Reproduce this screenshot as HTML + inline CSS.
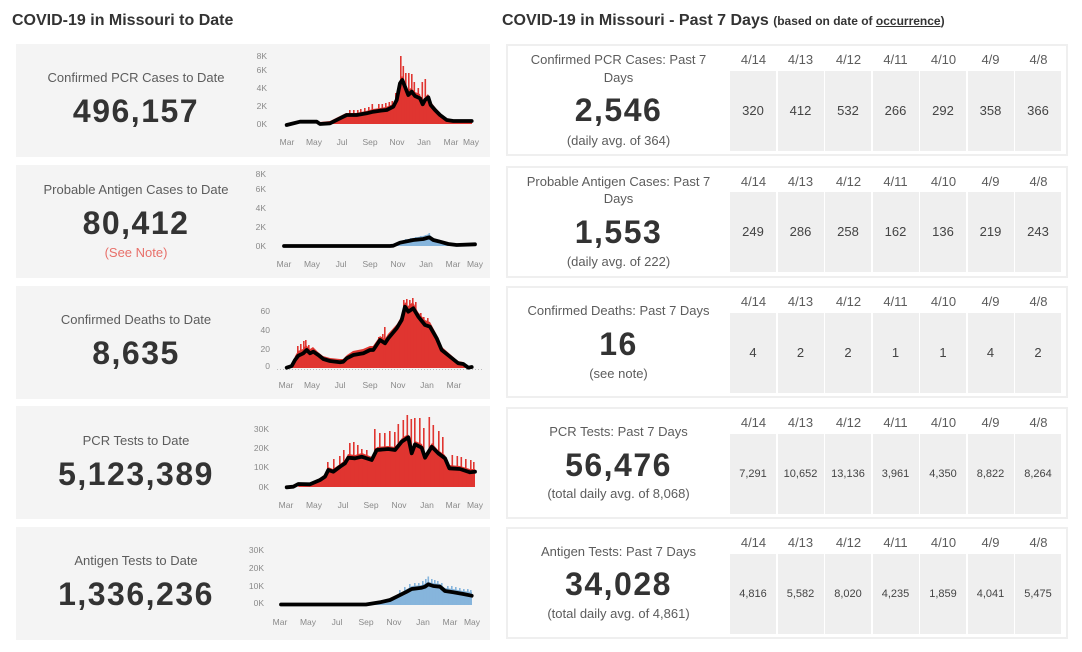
<!DOCTYPE html>
<html><head><meta charset="utf-8"><style>
*{margin:0;padding:0;box-sizing:border-box}
body{width:1082px;height:652px;background:#fff;font-family:"Liberation Sans",sans-serif;position:relative;overflow:hidden;color:#333}
.lb{position:absolute;left:16px;width:474px;height:113px;background:#f4f4f4}
.rb{position:absolute;left:506px;width:562px;height:112px;background:#fff;border:2px solid #efefef}
.t{position:absolute;white-space:nowrap;text-align:center}
.lab{font-size:13px;line-height:20px;height:20px;color:#5c5c5c}
.num{font-size:32px;font-weight:bold;line-height:36px;height:36px;color:#333;letter-spacing:1.5px}
.lt{left:16px;width:240px}
.rt{left:508px;width:221px}
.cell{position:absolute;width:46px;height:80px;background:#efefef;font-size:13px;color:#444;text-align:center;line-height:80px}
.cs{font-size:11px}
.dh{position:absolute;width:47px;text-align:center;font-size:13px;color:#5c5c5c;line-height:20px}
svg{position:absolute;left:0;top:0}
</style></head><body>
<div class="t" style="left:12px;top:11px;font-size:16px;font-weight:bold;line-height:20px;color:#333">COVID-19 in Missouri to Date</div>
<div class="t" style="left:502px;top:11px;font-size:16px;font-weight:bold;line-height:20px;color:#333">COVID-19 in Missouri - Past 7 Days <span style="font-size:12px">(based on date of <u>occurrence</u>)</span></div>

<div class="lb" style="top:44px"></div>
<div class="lb" style="top:165px"></div>
<div class="lb" style="top:286px"></div>
<div class="lb" style="top:406px"></div>
<div class="lb" style="top:527px"></div>

<div class="t lab lt" style="top:68px">Confirmed PCR Cases to Date</div>
<div class="t num lt" style="top:93px">496,157</div>
<div class="t lab lt" style="top:180px">Probable Antigen Cases to Date</div>
<div class="t num lt" style="top:205px">80,412</div>
<div class="t lab lt" style="top:243px;color:#e8706a">(See Note)</div>
<div class="t lab lt" style="top:310px">Confirmed Deaths to Date</div>
<div class="t num lt" style="top:335px">8,635</div>
<div class="t lab lt" style="top:431px">PCR Tests to Date</div>
<div class="t num lt" style="top:456px">5,123,389</div>
<div class="t lab lt" style="top:551px">Antigen Tests to Date</div>
<div class="t num lt" style="top:576px">1,336,236</div>

<div class="rb" style="top:44px"></div>
<div class="rb" style="top:166px"></div>
<div class="rb" style="top:286px"></div>
<div class="rb" style="top:407px"></div>
<div class="rb" style="top:527px"></div>

<div class="t lab rt" style="top:50px">Confirmed PCR Cases: Past 7</div>
<div class="t lab rt" style="top:68px">Days</div>
<div class="t num rt" style="top:92px">2,546</div>
<div class="t lab rt" style="top:131px">(daily avg. of 364)</div>

<div class="t lab rt" style="top:172px">Probable Antigen Cases: Past 7</div>
<div class="t lab rt" style="top:189px">Days</div>
<div class="t num rt" style="top:214px">1,553</div>
<div class="t lab rt" style="top:252px">(daily avg. of 222)</div>

<div class="t lab rt" style="top:301px">Confirmed Deaths: Past 7 Days</div>
<div class="t num rt" style="top:326px">16</div>
<div class="t lab rt" style="top:364px">(see note)</div>

<div class="t lab rt" style="top:422px">PCR Tests: Past 7 Days</div>
<div class="t num rt" style="top:447px">56,476</div>
<div class="t lab rt" style="top:484px">(total daily avg. of 8,068)</div>

<div class="t lab rt" style="top:542px">Antigen Tests: Past 7 Days</div>
<div class="t num rt" style="top:566px">34,028</div>
<div class="t lab rt" style="top:604px">(total daily avg. of 4,861)</div>

<!-- table 1 -->
<div class="dh" style="left:730px;top:50px">4/14</div><div class="dh" style="left:777px;top:50px">4/13</div><div class="dh" style="left:825px;top:50px">4/12</div><div class="dh" style="left:872px;top:50px">4/11</div><div class="dh" style="left:920px;top:50px">4/10</div><div class="dh" style="left:967px;top:50px">4/9</div><div class="dh" style="left:1015px;top:50px">4/8</div>
<div class="cell" style="left:730px;top:71px">320</div><div class="cell" style="left:777.5px;top:71px">412</div><div class="cell" style="left:825px;top:71px">532</div><div class="cell" style="left:872.5px;top:71px">266</div><div class="cell" style="left:920px;top:71px">292</div><div class="cell" style="left:967.5px;top:71px">358</div><div class="cell" style="left:1015px;top:71px">366</div>
<!-- table 2 -->
<div class="dh" style="left:730px;top:172px">4/14</div><div class="dh" style="left:777px;top:172px">4/13</div><div class="dh" style="left:825px;top:172px">4/12</div><div class="dh" style="left:872px;top:172px">4/11</div><div class="dh" style="left:920px;top:172px">4/10</div><div class="dh" style="left:967px;top:172px">4/9</div><div class="dh" style="left:1015px;top:172px">4/8</div>
<div class="cell" style="left:730px;top:192px">249</div><div class="cell" style="left:777.5px;top:192px">286</div><div class="cell" style="left:825px;top:192px">258</div><div class="cell" style="left:872.5px;top:192px">162</div><div class="cell" style="left:920px;top:192px">136</div><div class="cell" style="left:967.5px;top:192px">219</div><div class="cell" style="left:1015px;top:192px">243</div>
<!-- table 3 -->
<div class="dh" style="left:730px;top:292px">4/14</div><div class="dh" style="left:777px;top:292px">4/13</div><div class="dh" style="left:825px;top:292px">4/12</div><div class="dh" style="left:872px;top:292px">4/11</div><div class="dh" style="left:920px;top:292px">4/10</div><div class="dh" style="left:967px;top:292px">4/9</div><div class="dh" style="left:1015px;top:292px">4/8</div>
<div class="cell" style="left:730px;top:313px">4</div><div class="cell" style="left:777.5px;top:313px">2</div><div class="cell" style="left:825px;top:313px">2</div><div class="cell" style="left:872.5px;top:313px">1</div><div class="cell" style="left:920px;top:313px">1</div><div class="cell" style="left:967.5px;top:313px">4</div><div class="cell" style="left:1015px;top:313px">2</div>
<!-- table 4 -->
<div class="dh" style="left:730px;top:413px">4/14</div><div class="dh" style="left:777px;top:413px">4/13</div><div class="dh" style="left:825px;top:413px">4/12</div><div class="dh" style="left:872px;top:413px">4/11</div><div class="dh" style="left:920px;top:413px">4/10</div><div class="dh" style="left:967px;top:413px">4/9</div><div class="dh" style="left:1015px;top:413px">4/8</div>
<div class="cell cs" style="left:730px;top:434px">7,291</div><div class="cell cs" style="left:777.5px;top:434px">10,652</div><div class="cell cs" style="left:825px;top:434px">13,136</div><div class="cell cs" style="left:872.5px;top:434px">3,961</div><div class="cell cs" style="left:920px;top:434px">4,350</div><div class="cell cs" style="left:967.5px;top:434px">8,822</div><div class="cell cs" style="left:1015px;top:434px">8,264</div>
<!-- table 5 -->
<div class="dh" style="left:730px;top:533px">4/14</div><div class="dh" style="left:777px;top:533px">4/13</div><div class="dh" style="left:825px;top:533px">4/12</div><div class="dh" style="left:872px;top:533px">4/11</div><div class="dh" style="left:920px;top:533px">4/10</div><div class="dh" style="left:967px;top:533px">4/9</div><div class="dh" style="left:1015px;top:533px">4/8</div>
<div class="cell cs" style="left:730px;top:554px">4,816</div><div class="cell cs" style="left:777.5px;top:554px">5,582</div><div class="cell cs" style="left:825px;top:554px">8,020</div><div class="cell cs" style="left:872.5px;top:554px">4,235</div><div class="cell cs" style="left:920px;top:554px">1,859</div><div class="cell cs" style="left:967.5px;top:554px">4,041</div><div class="cell cs" style="left:1015px;top:554px">5,475</div>

<svg width="1082" height="652" viewBox="0 0 1082 652" font-family="Liberation Sans, sans-serif">
<g font-size="8.5" fill="#8a8a8a">
<g text-anchor="end"><text x="267" y="59">8K</text><text x="267" y="73">6K</text><text x="267" y="91">4K</text><text x="267" y="109">2K</text><text x="267" y="127">0K</text></g>
<g text-anchor="middle"><text x="287" y="145">Mar</text><text x="314" y="145">May</text><text x="342" y="145">Jul</text><text x="370" y="145">Sep</text><text x="397" y="145">Nov</text><text x="424" y="145">Jan</text><text x="451" y="145">Mar</text><text x="471" y="145">May</text></g>
<g text-anchor="end"><text x="266" y="177">8K</text><text x="266" y="192">6K</text><text x="266" y="211">4K</text><text x="266" y="230">2K</text><text x="266" y="249">0K</text></g>
<g text-anchor="middle"><text x="284" y="267">Mar</text><text x="312" y="267">May</text><text x="341" y="267">Jul</text><text x="370" y="267">Sep</text><text x="398" y="267">Nov</text><text x="426" y="267">Jan</text><text x="453" y="267">Mar</text><text x="475" y="267">May</text></g>
<g text-anchor="end"><text x="270" y="314">60</text><text x="270" y="333">40</text><text x="270" y="352">20</text><text x="270" y="369">0</text></g>
<g text-anchor="middle"><text x="286" y="388">Mar</text><text x="312" y="388">May</text><text x="340" y="388">Jul</text><text x="370" y="388">Sep</text><text x="398" y="388">Nov</text><text x="427" y="388">Jan</text><text x="454" y="388">Mar</text></g>
<g text-anchor="end"><text x="269" y="432">30K</text><text x="269" y="451">20K</text><text x="269" y="470">10K</text><text x="269" y="490">0K</text></g>
<g text-anchor="middle"><text x="286" y="508">Mar</text><text x="314" y="508">May</text><text x="343" y="508">Jul</text><text x="371" y="508">Sep</text><text x="399" y="508">Nov</text><text x="427" y="508">Jan</text><text x="453" y="508">Mar</text><text x="475" y="508">May</text></g>
<g text-anchor="end"><text x="264" y="553">30K</text><text x="264" y="571">20K</text><text x="264" y="589">10K</text><text x="264" y="606">0K</text></g>
<g text-anchor="middle"><text x="280" y="625">Mar</text><text x="308" y="625">May</text><text x="337" y="625">Jul</text><text x="366" y="625">Sep</text><text x="394" y="625">Nov</text><text x="423" y="625">Jan</text><text x="450" y="625">Mar</text><text x="472" y="625">May</text></g>
</g>

<polygon fill="#e03530" points="320,124 320,122 330,121 340,116 346,113 356,113 366,111 373,109 380,108 386,107 393,104 396,97 399,82 402,76 405,82 408,90 411,88 415,92 420,94 422,102 425,97 428,94 431,102 435,107 440,113 446,119 453,120 472,120 472,124"/>
<g fill="#e03530">
<rect x="400" y="56" width="1.6" height="68"/><rect x="402.5" y="66" width="1.6" height="58"/><rect x="405" y="73" width="1.6" height="51"/><rect x="408" y="73" width="1.6" height="51"/><rect x="411" y="74" width="1.6" height="50"/><rect x="413.5" y="82" width="1.6" height="42"/><rect x="417.5" y="88" width="1.6" height="36"/><rect x="421.5" y="82" width="1.6" height="42"/><rect x="424.5" y="79" width="1.6" height="45"/><rect x="395" y="93" width="1.6" height="31"/><rect x="391.5" y="101" width="1.6" height="23"/><rect x="388.5" y="102" width="1.6" height="22"/><rect x="385" y="103" width="1.6" height="21"/><rect x="381.5" y="104" width="1.6" height="20"/><rect x="378" y="104" width="1.6" height="20"/><rect x="371.5" y="104" width="1.6" height="20"/><rect x="368" y="107" width="1.6" height="17"/><rect x="364" y="108" width="1.6" height="16"/><rect x="360" y="109" width="1.6" height="15"/><rect x="357" y="110" width="1.6" height="14"/><rect x="353" y="110" width="1.6" height="14"/><rect x="349" y="110" width="1.6" height="14"/><rect x="437" y="112" width="1.6" height="12"/><rect x="441" y="115" width="1.6" height="9"/>
</g>
<polyline fill="none" stroke="#000" stroke-width="3.8" stroke-linejoin="round" stroke-linecap="round" points="286.7,125 300,121.7 316.7,121.7 320,124 330,123.3 340,118.3 346.7,115 356.7,115 366.7,113.3 373.3,111.7 380,110.7 386.7,110 393.3,106.7 396.7,100 400,83.3 402.3,80 405,86.7 408.3,95 411.7,91.7 415,96 420,98.3 422.7,104.3 425,100 428.3,97.3 430.7,105 435,110 440,115 446.7,120 453.3,121 471.7,121"/>

<polygon fill="#86b5dc" points="380,246 390,245 400,241 413,238 423,236 429,234 433,238 440,240 448,243 456,244 475,243 475,246"/>
<g fill="#86b5dc"><rect x="405" y="239" width="1.6" height="7"/><rect x="410" y="238" width="1.6" height="8"/><rect x="415" y="237" width="1.6" height="9"/><rect x="420" y="236" width="1.6" height="10"/><rect x="425" y="235" width="1.6" height="11"/><rect x="428.5" y="233" width="1.6" height="13"/></g>
<polyline fill="none" stroke="#000" stroke-width="3.8" stroke-linejoin="round" stroke-linecap="round" points="284,246 390,246 393.3,245.7 400,242.7 413.3,240 423.3,239 429.3,237.3 433.3,240 440,241.7 448.3,244 456.7,245 475,244.3"/>

<line x1="277" y1="369.5" x2="482" y2="369.5" stroke="#bbb" stroke-width="1" stroke-dasharray="1,2"/>
<polygon fill="#e03530" points="287,368 292,366 295,356 298,351 303,349 306,345 310,349 313,347 318,352 323,356 330,358 340,359 343,359 347,355 353,351 363,349 370,346 373,346 380,336 385,339 388,334 397,324 402,315 405,302 408,306 413,302 418,312 425,320 430,322 437,335 442,347 450,354 458,361 463,362 468,366 472,366 472,368"/>
<g fill="#e03530">
<rect x="297" y="346" width="1.6" height="22"/><rect x="300" y="344" width="1.6" height="24"/><rect x="303" y="341" width="1.6" height="27"/><rect x="305" y="340" width="1.6" height="28"/><rect x="308" y="345" width="1.6" height="23"/><rect x="378" y="337" width="1.6" height="31"/><rect x="382" y="334" width="1.6" height="34"/><rect x="384" y="327" width="1.6" height="41"/><rect x="390" y="333" width="1.6" height="35"/><rect x="393" y="330" width="1.6" height="38"/><rect x="398" y="324" width="1.6" height="44"/><rect x="403" y="300" width="1.6" height="68"/><rect x="406" y="299" width="1.6" height="69"/><rect x="409" y="300" width="1.6" height="68"/><rect x="412" y="298" width="1.6" height="70"/><rect x="415" y="302" width="1.6" height="66"/><rect x="420" y="313" width="1.6" height="55"/><rect x="423" y="317" width="1.6" height="51"/><rect x="427" y="318" width="1.6" height="50"/>
</g>
<polyline fill="none" stroke="#000" stroke-width="3.8" stroke-linejoin="round" stroke-linecap="round" points="286.7,367.7 291.7,366 295,360 298.3,355.7 303.3,353.3 306.7,350 310,353.3 313.3,351.7 318.3,355 323.3,359 330,361 340,362.3 343.3,361.7 346.7,358.3 353.3,355 363.3,353.3 370,350 373.3,350 380,340 385,343.3 388.3,338.3 396.7,328.3 401.7,320 405,306.7 408.3,311.7 413.3,308.3 418.3,316.7 425,325 430,326.7 436.7,338.3 441.7,350 450,356.7 458.3,363.3 463.3,364 468.3,367.7 471.7,367"/>

<polygon fill="#e03530" points="298,487 300,484 310,483 320,478 325,474 328,467 333,469 340,464 345,460 348,454 355,455 362,453 372,457 377,447 388,446 395,447 402,438 408,434 412,450 415,441 422,444 425,454 432,443 438,450 445,455 449,465 460,466 470,469 475,469 475,487"/>
<g fill="#e03530">
<rect x="327" y="462" width="1.6" height="25"/><rect x="333" y="459" width="1.6" height="28"/><rect x="339" y="456" width="1.6" height="31"/><rect x="343" y="450" width="1.6" height="37"/><rect x="349" y="443" width="1.6" height="44"/><rect x="353" y="442" width="1.6" height="45"/><rect x="357" y="445" width="1.6" height="42"/><rect x="361" y="449" width="1.6" height="38"/><rect x="366" y="450" width="1.6" height="37"/><rect x="374" y="429" width="1.6" height="58"/><rect x="379" y="433" width="1.6" height="54"/><rect x="384" y="433" width="1.6" height="54"/><rect x="389" y="431" width="1.6" height="56"/><rect x="394" y="432" width="1.6" height="55"/><rect x="397.5" y="424" width="1.6" height="63"/><rect x="402.5" y="420" width="1.6" height="67"/><rect x="406.5" y="415" width="1.6" height="72"/><rect x="410.5" y="419" width="1.6" height="68"/><rect x="414" y="418" width="1.6" height="69"/><rect x="419" y="418" width="1.6" height="69"/><rect x="423" y="428" width="1.6" height="59"/><rect x="428.5" y="417" width="1.6" height="70"/><rect x="432.5" y="425" width="1.6" height="62"/><rect x="438" y="431" width="1.6" height="56"/><rect x="442" y="437" width="1.6" height="50"/><rect x="451.5" y="455" width="1.6" height="32"/><rect x="456.5" y="456" width="1.6" height="31"/><rect x="460.5" y="457" width="1.6" height="30"/><rect x="465" y="459" width="1.6" height="28"/><rect x="470" y="460" width="1.6" height="27"/><rect x="473" y="462" width="1.6" height="25"/>
</g>
<polyline fill="none" stroke="#000" stroke-width="3.8" stroke-linejoin="round" stroke-linecap="round" points="286.7,487.3 293.3,486.7 298.3,484 310,484.3 320,480 325,476.7 328.3,470 333.3,471.7 340,466.7 345,463.3 348.3,457.7 355,458.3 361.7,456.7 371.7,460 376.7,450 388.3,449 395,450 401.7,441.7 408.3,437.3 411.7,453.3 415,444.3 421.7,447.7 425,457.7 431.7,446.7 438.3,453.3 445,458.3 449.3,468.3 460,469 470,472.3 475,471.7"/>

<polygon fill="#86b5dc" points="365,605 380,602 390,599 397,595 407,589 412,586 422,585 428,582 433,583 440,584 445,588 453,589 463,591 472,592 472,605"/>
<g fill="#86b5dc">
<rect x="399" y="590" width="1.6" height="15"/><rect x="404" y="587" width="1.6" height="18"/><rect x="409" y="584" width="1.6" height="21"/><rect x="414" y="583" width="1.6" height="22"/><rect x="418" y="583" width="1.6" height="22"/><rect x="422" y="581" width="1.6" height="24"/><rect x="425" y="579" width="1.6" height="26"/><rect x="427.5" y="576.5" width="1.6" height="28.5"/><rect x="431" y="579" width="1.6" height="26"/><rect x="434" y="580" width="1.6" height="25"/><rect x="437" y="581" width="1.6" height="24"/><rect x="441" y="583" width="1.6" height="22"/><rect x="447" y="586" width="1.6" height="19"/><rect x="451" y="586" width="1.6" height="19"/><rect x="455" y="587" width="1.6" height="18"/><rect x="459" y="588" width="1.6" height="17"/><rect x="463" y="589" width="1.6" height="16"/><rect x="467" y="589" width="1.6" height="16"/><rect x="470" y="590" width="1.6" height="15"/>
</g>
<polyline fill="none" stroke="#000" stroke-width="3.8" stroke-linejoin="round" stroke-linecap="round" points="281,604.5 366,604.5 380,602.3 390,600 396.7,596.7 406.7,591.7 411.7,589 421.7,587.7 425,586.7 428.3,584.3 433.3,586 440,586.7 445,591 453.3,592.3 463.3,594 471.7,595.7"/>
</svg>
</body></html>
